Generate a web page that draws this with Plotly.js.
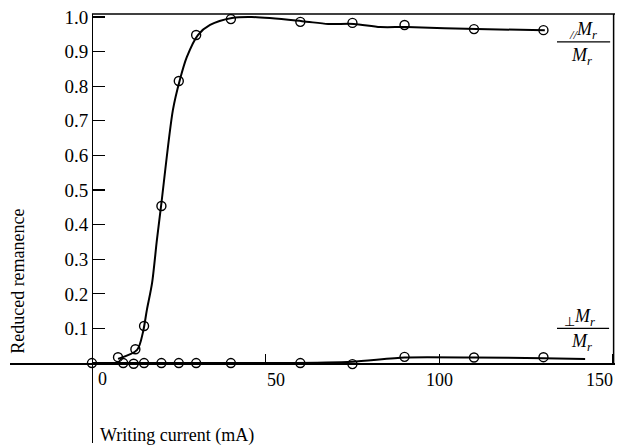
<!DOCTYPE html>
<html>
<head>
<meta charset="utf-8">
<script src="https://cdn.plot.ly/plotly-3.0.1.min.js"></script>
<style>html,body{margin:0;padding:0;background:#fff;}#chart{width:617px;height:445px;}</style>
</head>
<body>
<div id="chart"></div>
<script>
// Parallel remanence: measured points
const parX = [7.5, 12.5, 15, 20, 25, 30, 40, 60, 75, 90, 110, 130];
const parY = [0.017, 0.040, 0.107, 0.454, 0.815, 0.948, 0.994, 0.986, 0.983, 0.977, 0.965, 0.962];
// Parallel remanence: drawn curve
const parCurveX = [7.5, 13, 14.7, 15.8, 17.3, 18.7, 19.9, 23.3, 25.3, 27.3, 30.5, 34, 40.3, 46, 60.5, 68, 75.4, 83, 90.7, 110.8, 130.4];
const parCurveY = [0.012, 0.038, 0.09, 0.153, 0.231, 0.356, 0.454, 0.731, 0.818, 0.884, 0.948, 0.977, 0.997, 1.0, 0.988, 0.98, 0.98, 0.971, 0.971, 0.965, 0.962];
// Perpendicular remanence: measured points
const perpX = [0, 9, 12, 15, 20, 25, 30, 40, 60, 75, 90, 110, 130];
const perpY = [0, 0, -0.002, 0, 0, 0, 0, 0, 0, -0.003, 0.018, 0.016, 0.017];
// Perpendicular remanence: drawn curve
const perpCurveX = [0, 55, 75, 90, 110, 130, 142];
const perpCurveY = [0, 0, 0.004, 0.016, 0.016, 0.014, 0.012];
// Axis ticks
const yTickVals = [0.1, 0.2, 0.3, 0.4, 0.5, 0.6, 0.7, 0.8, 0.9, 1.0];
const yTickText = ["0.1", "0.2", "0.3", "0.4", "0.5", "0.6", "0.7", "0.8", "0.9", "1.0"];
const xTickVals = [50, 100, 150];
const xTickText = ["50", "100", "150"];
const xTitle = "Writing current (mA)";
const yTitle = "Reduced remanence";

const xr = [-23.6, 150.6];
const yr = [-0.231, 1.0087];
const font = {family: "Liberation Serif, Times New Roman, serif", size: 18, color: "#000"};

const traces = [
  {x: parCurveX, y: parCurveY, mode: "lines", line: {color: "#000", width: 2, shape: "spline", smoothing: 0.8}, hoverinfo: "skip"},
  {x: perpCurveX, y: perpCurveY, mode: "lines", line: {color: "#000", width: 2, shape: "spline", smoothing: 0.6}, hoverinfo: "skip"},
  {x: parX, y: parY, mode: "markers", marker: {symbol: "circle-open", size: 9, color: "#000", line: {width: 1.4, color: "#000"}}},
  {x: perpX, y: perpY, mode: "markers", marker: {symbol: "circle-open", size: 9, color: "#000", line: {width: 1.4, color: "#000"}}}
];

// x tick labels placed as annotations so the last one is not dropped at the edge
const lastTick = xTickVals.length - 1;
const xTickAnn = xTickVals.map((v, i) => ({
  text: xTickText[i], xref: "x", yref: "y",
  x: i === lastTick ? xr[1] : v + (i === 0 ? 3 : 0), y: -0.05,
  showarrow: false, font: font, xanchor: i === lastTick ? "right" : "center", yanchor: "middle"
}));

const layout = {
  width: 617, height: 445,
  margin: {l: 10, r: 2, t: 14, b: 2},
  paper_bgcolor: "#fff", plot_bgcolor: "#fff",
  showlegend: false,
  font: font,
  xaxis: {
    range: xr, anchor: "free", position: (0 - yr[0]) / (yr[1] - yr[0]),
    showgrid: false, zeroline: false, showline: true, linecolor: "#000", linewidth: 1.5,
    ticks: "inside", ticklen: 9, tickwidth: 1.2, tickcolor: "#000",
    tickmode: "array", tickvals: xTickVals, ticktext: xTickText, showticklabels: false,
    tickfont: font
  },
  yaxis: {
    range: yr, anchor: "free", position: (0 - xr[0]) / (xr[1] - xr[0]),
    showgrid: false, zeroline: false, showline: true, linecolor: "#000", linewidth: 1.5,
    ticks: "inside", ticklen: 12, tickwidth: 1.2, tickcolor: "#000",
    tickmode: "array", tickvals: yTickVals, ticktext: yTickText,
    tickfont: {family: font.family, size: 19, color: "#000"}
  },
  shapes: [
    {type: "line", xref: "x", yref: "paper", x0: 0, x1: 150.6, y0: 1, y1: 1, line: {color: "#000", width: 1.5}},
    {type: "line", xref: "x", yref: "y", x0: 150.2, x1: 150.2, y0: 0, y1: yr[1], line: {color: "#000", width: 1.5}},
    {type: "line", xref: "x", yref: "y", x0: 133.9, x1: 149.2, y0: 0.928, y1: 0.928, line: {color: "#000", width: 1.2}},
    {type: "line", xref: "x", yref: "y", x0: 133.9, x1: 148.9, y0: 0.100, y1: 0.100, line: {color: "#000", width: 1.2}}
  ],
  annotations: xTickAnn.concat([
    {text: yTitle, xref: "paper", yref: "paper", x: 8/617, y: (443 - 281) / 429, textangle: -90, showarrow: false, font: font, xanchor: "center", yanchor: "middle"},
    {text: xTitle, xref: "x", yref: "paper", x: 1.7, y: (443 - 435) / 429, showarrow: false, font: font, xanchor: "left", yanchor: "middle"},
    {text: "0", xref: "x", yref: "y", x: 3.1, y: -0.046, showarrow: false, font: font, xanchor: "center", yanchor: "middle"},
    {text: "<sub><i>//</i></sub><i>M<sub>r</sub></i>", xref: "x", yref: "y", x: 141.5, y: 0.962, showarrow: false, font: {family: font.family, size: 18, color: "#000"}, xanchor: "center", yanchor: "middle"},
    {text: "<i>M<sub>r</sub></i>", xref: "x", yref: "y", x: 141.0, y: 0.886, showarrow: false, font: {family: font.family, size: 18, color: "#000"}, xanchor: "center", yanchor: "middle"},
    {text: "<sub>⊥</sub><i>M<sub>r</sub></i>", xref: "x", yref: "y", x: 140.5, y: 0.133, showarrow: false, font: {family: font.family, size: 18, color: "#000"}, xanchor: "center", yanchor: "middle"},
    {text: "<i>M<sub>r</sub></i>", xref: "x", yref: "y", x: 141.0, y: 0.060, showarrow: false, font: {family: font.family, size: 18, color: "#000"}, xanchor: "center", yanchor: "middle"}
  ])
};

Plotly.newPlot("chart", traces, layout, {displayModeBar: false, staticPlot: true});
</script>
</body>
</html>
